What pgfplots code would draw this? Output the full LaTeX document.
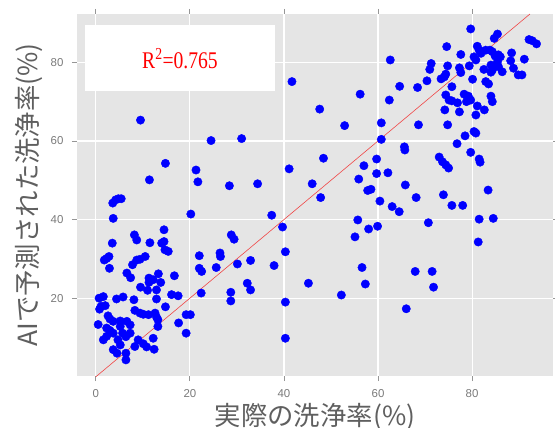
\documentclass[border=0pt]{standalone}
\usepackage{pgfplots}
\pgfplotsset{compat=1.18}
\usepackage{fontspec}
\setmainfont{Liberation Sans}
\newfontfamily\jp{Noto Sans CJK JP}
\newfontfamily\rfont{Liberation Serif}

\definecolor{panel}{RGB}{229,229,229}
\definecolor{ticktext}{RGB}{122,122,122}
\definecolor{titletext}{RGB}{95,95,95}
\definecolor{tickline}{RGB}{150,150,150}
\definecolor{fitline}{RGB}{240,70,70}

\pgfplotstableread{
x y
3.5 34.0
8.2 36.1
8.7 34.8
14.5 37.4
11.5 34.1
14.0 34.0
14.5 34.4
14.7 32.3
15.4 31.9
7.8 28.5
8.7 29.7
9.4 29.9
10.5 30.6
1.8 29.7
2.3 30.1
2.8 30.6
2.9 27.6
6.6 26.4
7.4 25.2
11.3 25.1
11.3 24.0
12.2 24.7
13.3 26.2
13.8 24.0
16.7 25.7
9.5 22.8
11.0 22.0
12.9 22.1
12.9 19.8
16.1 20.9
17.5 20.6
0.7 20.0
1.6 20.4
4.4 19.8
5.8 20.3
8.1 19.6
0.8 17.2
1.1 17.9
2.0 18.1
8.3 16.9
9.4 16.2
10.1 15.9
11.2 15.8
12.6 16.2
12.9 15.2
14.8 17.8
19.2 15.8
20.1 15.8
17.6 13.7
19.2 11.1
0.5 13.3
2.6 15.5
3.0 14.7
3.7 14.1
2.3 12.4
3.0 11.8
3.7 11.1
1.6 9.4
2.3 10.3
5.2 14.2
5.2 12.8
6.6 14.1
7.3 13.2
5.7 11.1
6.4 10.2
7.3 11.1
4.7 9.4
5.2 8.1
3.7 6.9
4.5 6.0
6.4 6.0
6.4 4.3
8.3 7.7
9.0 9.4
10.1 8.4
10.8 7.6
12.4 7.0
12.2 9.8
13.2 12.8
13.2 14.5
3.6 44.2
4.2 45.0
4.8 45.3
5.4 45.3
3.7 40.3
9.5 65.3
24.5 60.1
31.0 60.6
14.8 54.3
11.4 50.1
21.3 52.6
21.7 49.6
28.4 48.6
34.4 49.1
41.1 52.9
20.2 41.4
37.4 41.1
41.7 75.1
22.0 30.8
22.0 27.6
22.5 26.8
22.4 21.3
25.6 27.8
26.4 31.5
26.5 30.6
28.8 36.1
29.4 35.0
30.1 28.7
32.9 29.6
32.2 23.8
32.9 22.1
28.7 21.5
28.7 19.3
40.3 19.0
40.3 9.8
39.7 38.1
40.3 31.8
37.9 28.3
55.7 39.9
58.0 37.6
59.9 38.3
55.1 35.6
70.7 39.2
81.5 40.1
84.5 40.3
81.3 34.3
56.6 27.8
57.3 23.6
45.2 23.8
67.9 26.8
71.5 26.8
71.8 22.8
52.2 20.8
66.0 17.3
62.6 80.6
79.7 88.5
84.7 86.1
85.4 87.2
92.1 85.8
92.8 85.5
93.7 84.7
74.6 84.0
77.6 82.0
81.1 84.1
81.5 83.1
81.9 82.3
82.9 83.1
83.8 83.1
84.3 82.7
84.9 81.6
85.6 81.9
86.0 81.4
80.4 81.4
80.8 80.6
79.4 79.1
82.5 78.2
84.0 79.3
84.3 78.0
85.4 80.2
85.6 78.9
86.4 77.6
84.0 77.5
88.4 82.4
88.2 80.4
88.8 78.5
91.1 80.8
89.8 76.8
90.6 76.8
71.3 79.7
71.0 78.2
74.8 79.1
77.3 78.6
77.6 77.4
70.4 75.3
73.4 75.8
74.1 76.3
74.4 77.0
75.7 73.8
80.1 75.7
82.9 75.1
83.5 74.5
64.6 73.9
68.4 73.6
56.2 71.9
62.4 70.4
74.4 71.7
75.1 70.4
75.7 70.2
76.9 69.7
78.3 71.9
79.2 71.4
79.7 70.4
84.0 71.4
84.3 70.0
78.8 70.0
81.1 68.9
82.6 67.9
74.2 67.9
77.3 67.4
80.8 66.6
47.6 68.1
52.9 63.9
60.7 64.6
68.6 64.1
74.8 64.1
60.7 60.4
80.4 62.4
80.8 62.0
78.5 61.3
76.8 59.3
65.6 58.5
65.7 57.7
79.7 57.1
81.5 55.4
81.7 54.6
73.0 55.9
73.7 54.7
74.4 53.9
75.0 53.1
59.7 55.4
57.0 53.7
48.4 55.6
59.7 51.7
62.1 51.9
55.9 50.3
46.0 49.1
65.8 48.8
57.8 47.4
58.5 47.7
73.9 46.3
83.4 47.5
47.8 45.6
68.1 45.6
60.4 44.7
63.0 43.3
64.5 42.0
75.7 43.6
78.0 43.6
}\scatterdata

\begin{document}
\begin{tikzpicture}
\useasboundingbox (-77bp,-52bp) rectangle (478bp,376bp);
\begin{axis}[
  scale only axis,
  width=476bp, height=362bp,
  xmin=-4, xmax=97.2, ymin=0.2, ymax=92.3,
  axis background/.style={fill=panel},
  axis line style={draw=none},
  xtick={0,20,40,60,80}, ytick={20,40,60,80},
  grid=major,
  major grid style={white, line width=1.2bp},
  tick align=outside,
  major tick length=5bp,
  tick style={color=tickline, line width=0.8bp},
  /pgf/number format/assume math mode=true,
  ticklabel style={font=\fontsize{11.5}{11.5}\selectfont, color=ticktext},
  xticklabel style={yshift=-5bp},
  yticklabel style={xshift=-5bp},
  xlabel={実際の洗浄率(\%)},
  ylabel={AIで予測された洗浄率(\%)},
  label style={font=\jp\fontsize{26.5}{26.5}\selectfont, color=titletext},
  xlabel style={at={(axis description cs:0.5,-0.113)}, anchor=center},
  ylabel style={at={(axis description cs:-0.10,0.5)}, anchor=center},
  clip=true,
]
\fill[white] (axis cs:-2.25,72.8) rectangle (axis cs:38,89.5);
\node[text=red, font=\rfont\fontsize{24}{24}\selectfont] at (axis cs:17.9,80.9) {\scalebox{0.82}[1]{R\textsuperscript{2}=0.765}};
\addplot[only marks, mark=*, mark size=4.2bp, color=blue, mark options={fill=blue, draw=blue}] table[x=x, y=y] {\scatterdata};
\addplot[color=fitline, line width=0.6bp] coordinates {(0,0) (92.3,92.3)};
\end{axis}
\end{tikzpicture}
\end{document}
